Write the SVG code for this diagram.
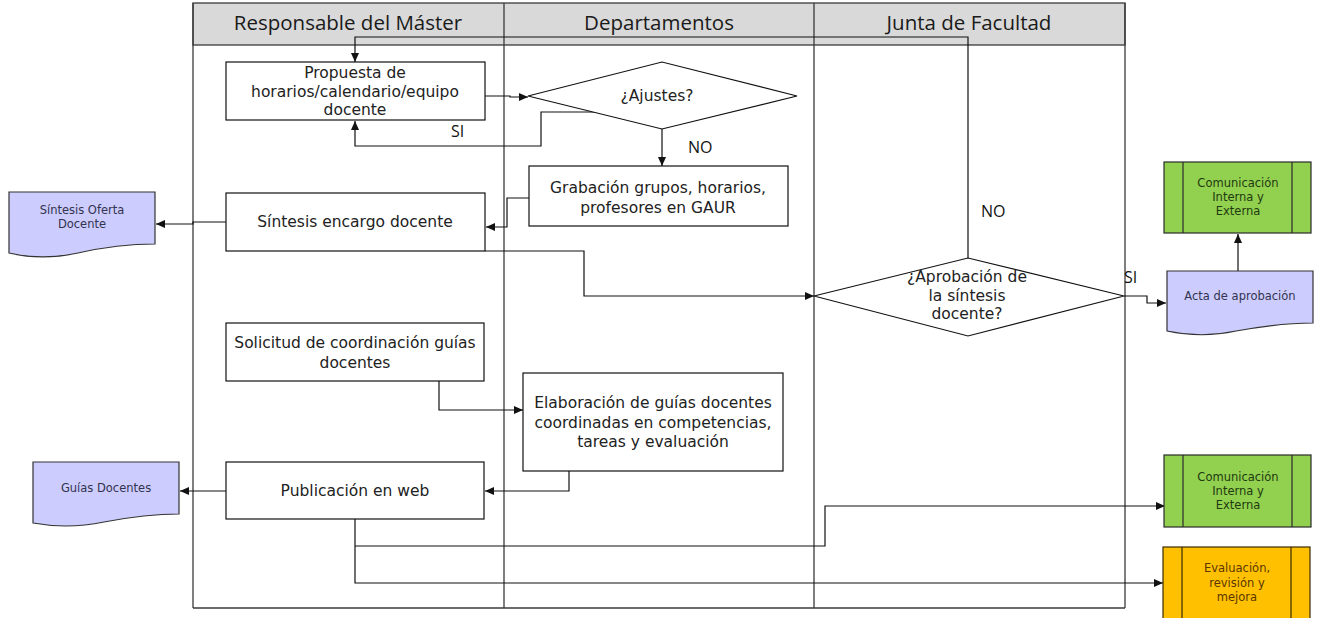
<svg xmlns="http://www.w3.org/2000/svg" width="1321" height="618" viewBox="0 0 1321 618">
<style>
.lane{stroke:#3a3a3a;stroke-width:1.3;fill:none}
.box{fill:#fff;stroke:#111;stroke-width:1.2}
.t{font-family:"DejaVu Sans",sans-serif;font-size:15.5px;fill:#222;text-anchor:middle}
.h{font-family:"Open Sans","Noto Sans",sans-serif;font-size:20.5px;fill:#1a1a1a;text-anchor:middle}
.lbl{font-family:"Open Sans","Noto Sans",sans-serif;font-size:16px;fill:#111}
.doc{fill:#ccccff;stroke:#333;stroke-width:1.2}
.dt{font-family:"DejaVu Sans",sans-serif;font-size:11.5px;fill:#33334d;text-anchor:middle}
.grn{fill:#92d050;stroke:#2b2b2b;stroke-width:1.2}
.gt{font-family:"DejaVu Sans",sans-serif;font-size:11.5px;fill:#1f3a0f;text-anchor:middle}
.org{fill:#ffc000;stroke:#3a2a00;stroke-width:1.2}
.ot{font-family:"DejaVu Sans",sans-serif;font-size:11.5px;fill:#5a3600;text-anchor:middle}
.c{fill:none;stroke:#111;stroke-width:1.2}
</style>
<defs>
<marker id="ah" markerUnits="userSpaceOnUse" markerWidth="10" markerHeight="8" refX="9" refY="4" orient="auto">
<path d="M0,0 L9,4 L0,8 Z" fill="#111"/>
</marker>
</defs>
<rect x="0" y="0" width="1321" height="618" fill="#fff"/>
<g id="lanes">
<rect x="193" y="3" width="932" height="42" fill="#d9d9d9" stroke="#3a3a3a" stroke-width="1.3"/>
<line class="lane" x1="193" y1="3" x2="193" y2="608"/>
<line class="lane" x1="504" y1="3" x2="504" y2="608"/>
<line class="lane" x1="814" y1="3" x2="814" y2="608"/>
<line class="lane" x1="1125" y1="3" x2="1125" y2="608"/>
<line class="lane" x1="193" y1="608" x2="1125" y2="608"/>
<text class="h" x="348" y="30">Responsable del Máster</text>
<text class="h" x="659" y="30">Departamentos</text>
<text class="h" x="969" y="30">Junta de Facultad</text>
</g>
<g id="connectors">
<polyline class="c" points="968,258 968,37 355,37 355,62" marker-end="url(#ah)"/>
<polyline class="c" points="485,96 510,96 510,97 528,97" marker-end="url(#ah)"/>
<polyline class="c" points="598,112 541,112 541,146 355,146 355,121" marker-end="url(#ah)"/>
<polyline class="c" points="662,129 662,166" marker-end="url(#ah)"/>
<polyline class="c" points="529,198 507,198 507,227 486,227" marker-end="url(#ah)"/>
<polyline class="c" points="226,222 193,222 193,224 156,224" marker-end="url(#ah)"/>
<polyline class="c" points="485,251 584,251 584,296 814,296" marker-end="url(#ah)"/>
<polyline class="c" points="1124,296 1147,296 1147,303 1166,303" marker-end="url(#ah)"/>
<polyline class="c" points="1238,271 1238,234" marker-end="url(#ah)"/>
<polyline class="c" points="439,381 439,410 523,410" marker-end="url(#ah)"/>
<polyline class="c" points="569,471 569,491 485,491" marker-end="url(#ah)"/>
<polyline class="c" points="226,491 180,491" marker-end="url(#ah)"/>
<polyline class="c" points="355,519 355,583 1163,583" marker-end="url(#ah)"/>
<polyline class="c" points="355,546 825,546 825,506 1165,506" marker-end="url(#ah)"/>
<text class="lbl" x="451" y="137">SI</text>
<text class="lbl" x="688" y="153">NO</text>
<text class="lbl" x="981" y="217">NO</text>
<text class="lbl" x="1124" y="283">SI</text>
</g>
<g id="propuesta">
<rect class="box" x="226" y="62" width="259" height="58"/>
<text class="t" x="355" y="78">Propuesta de</text>
<text class="t" x="355" y="96.5">horarios/calendario/equipo</text>
<text class="t" x="355" y="115">docente</text>
</g>
<g id="ajustes">
<polygon class="box" points="528,96 662,62 797,96 662,129"/>
<text class="t" x="657" y="101">¿Ajustes?</text>
</g>
<g id="grabacion">
<rect class="box" x="529" y="166" width="259" height="60"/>
<text class="t" x="658" y="193">Grabación grupos, horarios,</text>
<text class="t" x="658" y="213">profesores en GAUR</text>
</g>
<g id="sintesis">
<rect class="box" x="226" y="193" width="259" height="58"/>
<text class="t" x="355" y="227">Síntesis encargo docente</text>
</g>
<g id="sintesis-oferta">
<path class="doc" d="M9,192 H155 V244 C125,244 100,248 78,253 C55,258 30,258 9,253 Z"/>
<text class="dt" x="82" y="214">Síntesis Oferta</text>
<text class="dt" x="82" y="228">Docente</text>
</g>
<g id="aprobacion">
<polygon class="box" points="814,296 968,258 1124,296 968,336"/>
<text class="t" x="967" y="282">¿Aprobación de</text>
<text class="t" x="967" y="300.5">la síntesis</text>
<text class="t" x="967" y="319">docente?</text>
</g>
<g id="acta">
<path class="doc" d="M1167,271 H1313 V323 C1282,323 1258,327 1236,331 C1213,336 1190,336 1167,331 Z"/>
<text class="dt" x="1240" y="300">Acta de aprobación</text>
</g>
<g id="comunicacion1">
<rect class="grn" x="1164" y="162" width="147" height="71"/>
<line class="grn" x1="1183" y1="162" x2="1183" y2="233"/>
<line class="grn" x1="1292" y1="162" x2="1292" y2="233"/>
<text class="gt" x="1238" y="187">Comunicación</text>
<text class="gt" x="1238" y="201">Interna y</text>
<text class="gt" x="1238" y="215">Externa</text>
</g>
<g id="solicitud">
<rect class="box" x="226" y="323" width="258" height="58"/>
<text class="t" x="355" y="348">Solicitud de coordinación guías</text>
<text class="t" x="355" y="368">docentes</text>
</g>
<g id="elaboracion">
<rect class="box" x="523" y="373" width="260" height="98"/>
<text class="t" x="653" y="408">Elaboración de guías docentes</text>
<text class="t" x="653" y="428">coordinadas en competencias,</text>
<text class="t" x="653" y="447">tareas y evaluación</text>
</g>
<g id="publicacion">
<rect class="box" x="226" y="462" width="258" height="57"/>
<text class="t" x="355" y="496">Publicación en web</text>
</g>
<g id="guias">
<path class="doc" d="M33,462 H179 V514 C150,514 125,518 104,522 C80,527 55,527 33,523 Z"/>
<text class="dt" x="106" y="492">Guías Docentes</text>
</g>
<g id="comunicacion2">
<rect class="grn" x="1164" y="455" width="147" height="72"/>
<line class="grn" x1="1183" y1="455" x2="1183" y2="527"/>
<line class="grn" x1="1292" y1="455" x2="1292" y2="527"/>
<text class="gt" x="1238" y="481">Comunicación</text>
<text class="gt" x="1238" y="495">Interna y</text>
<text class="gt" x="1238" y="509">Externa</text>
</g>
<g id="evaluacion">
<rect class="org" x="1163" y="547" width="147" height="73"/>
<line class="org" x1="1182" y1="547" x2="1182" y2="620"/>
<line class="org" x1="1291" y1="547" x2="1291" y2="620"/>
<text class="ot" x="1237" y="572">Evaluación,</text>
<text class="ot" x="1237" y="587">revisión y</text>
<text class="ot" x="1237" y="601">mejora</text>
</g>
</svg>
